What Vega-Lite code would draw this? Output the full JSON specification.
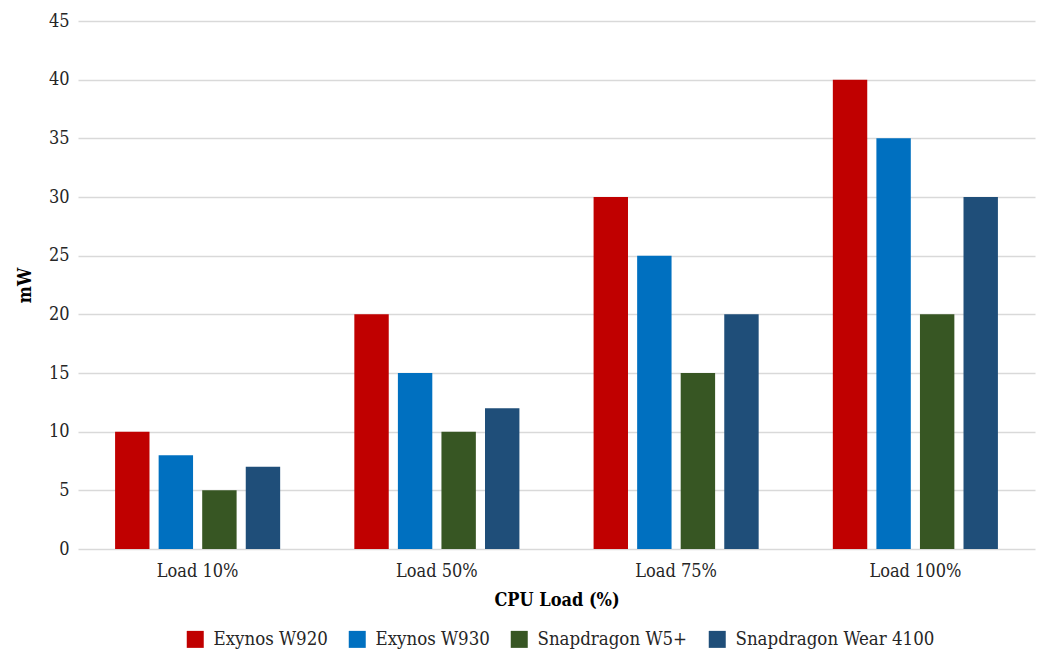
{
  "$schema": "https://vega.github.io/schema/vega-lite/v6.json",
  "autosize": {"type": "none"},
  "width": 957,
  "height": 528,
  "padding": {"left": 78, "top": 21, "right": 5, "bottom": 103},
  "background": "white",
  "data": {"values": [
    {"load": "Load 10%", "chip": "Exynos W920", "mW": 10},
    {"load": "Load 10%", "chip": "Exynos W930", "mW": 8},
    {"load": "Load 10%", "chip": "Snapdragon W5+", "mW": 5},
    {"load": "Load 10%", "chip": "Snapdragon Wear 4100", "mW": 7},
    {"load": "Load 50%", "chip": "Exynos W920", "mW": 20},
    {"load": "Load 50%", "chip": "Exynos W930", "mW": 15},
    {"load": "Load 50%", "chip": "Snapdragon W5+", "mW": 10},
    {"load": "Load 50%", "chip": "Snapdragon Wear 4100", "mW": 12},
    {"load": "Load 75%", "chip": "Exynos W920", "mW": 30},
    {"load": "Load 75%", "chip": "Exynos W930", "mW": 25},
    {"load": "Load 75%", "chip": "Snapdragon W5+", "mW": 15},
    {"load": "Load 75%", "chip": "Snapdragon Wear 4100", "mW": 20},
    {"load": "Load 100%", "chip": "Exynos W920", "mW": 40},
    {"load": "Load 100%", "chip": "Exynos W930", "mW": 35},
    {"load": "Load 100%", "chip": "Snapdragon W5+", "mW": 20},
    {"load": "Load 100%", "chip": "Snapdragon Wear 4100", "mW": 30}
  ]},
  "mark": {"type": "bar"},
  "encoding": {
    "x": {
      "field": "load", "type": "nominal", "sort": null,
      "scale": {"paddingInner": 0.31, "paddingOuter": 0.155},
      "axis": {"title": "CPU Load (%)", "labelAngle": 0, "domain": false, "ticks": false, "labelPadding": 13, "titlePadding": 11}
    },
    "xOffset": {"field": "chip", "type": "nominal", "sort": null, "scale": {"paddingInner": 0.21}},
    "y": {
      "field": "mW", "type": "quantitative",
      "scale": {"domain": [0, 45]},
      "axis": {"title": "mW", "values": [0,5,10,15,20,25,30,35,40,45], "domain": false, "ticks": false, "labelPadding": 9, "titlePadding": 14, "grid": true}
    },
    "color": {
      "field": "chip", "type": "nominal", "sort": null,
      "scale": {"domain": ["Exynos W920", "Exynos W930", "Snapdragon W5+", "Snapdragon Wear 4100"], "range": ["#C00000", "#0070C0", "#375623", "#1F4E79"]},
      "legend": {"orient": "none", "direction": "horizontal", "legendX": 108, "legendY": 609, "title": null, "symbolType": "square", "symbolSize": 289, "symbolStrokeWidth": 0, "labelOffset": 9, "columnPadding": 20, "labelLimit": 400}
    }
  },
  "config": {
    "font": "DejaVu Serif Condensed",
    "view": {"stroke": null},
    "axis": {"labelFont": "DejaVu Serif Condensed", "labelFontSize": 18, "labelColor": "#262626", "titleFont": "DejaVu Serif Condensed", "titleFontSize": 18, "titleFontWeight": "bold", "titleColor": "#000000", "gridColor": "#d9d9d9", "gridWidth": 1.5},
    "legend": {"labelFont": "DejaVu Serif Condensed", "labelFontSize": 18.5, "labelColor": "#262626", "symbolOpacity": 1}
  }
}
